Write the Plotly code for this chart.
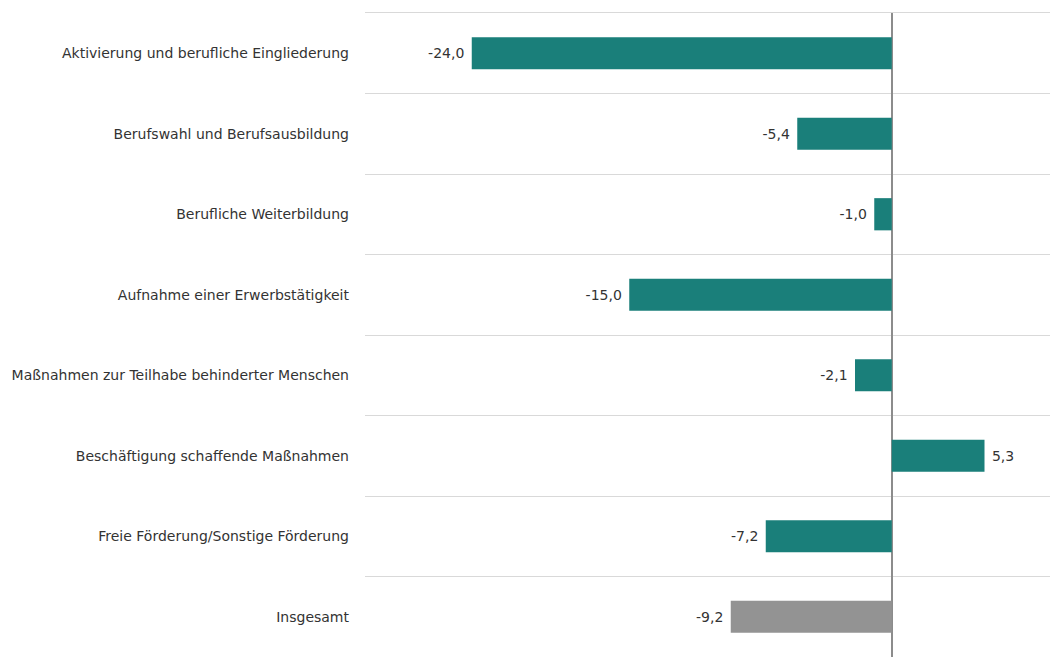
import plotly.graph_objects as go

categories = [
    "Aktivierung und berufliche Eingliederung",
    "Berufswahl und Berufsausbildung",
    "Berufliche Weiterbildung",
    "Aufnahme einer Erwerbstätigkeit",
    "Maßnahmen zur Teilhabe behinderter Menschen",
    "Beschäftigung schaffende Maßnahmen",
    "Freie Förderung/Sonstige Förderung",
    "Insgesamt",
]
values = [-24.0, -5.4, -1.0, -15.0, -2.1, 5.3, -7.2, -9.2]
colors = ["#1a7f7a"] * 7 + ["#939393"]

fig = go.Figure(go.Bar(
    x=values, y=categories, orientation="h",
    marker=dict(color=colors, line=dict(width=0)),
    width=0.4,
    text=values, texttemplate="\u00a0%{x:.1f}\u00a0", textposition="outside",
    textfont=dict(size=14, color="#333333"),
    cliponaxis=False,
))

fig.update_layout(
    width=1050, height=649,
    margin=dict(l=357, r=0, t=5, b=0, autoexpand=False),
    paper_bgcolor="white", plot_bgcolor="white",
    separators=",.",
    font=dict(family="DejaVu Sans", size=14, color="#333333"),
    showlegend=False,
    xaxis=dict(range=[-30.1, 9.5], showgrid=False, showticklabels=False,
               side="top", showline=True, linecolor="#d9d9d9", linewidth=1,
               zeroline=True, zerolinecolor="#8c8c8c", zerolinewidth=2,
               fixedrange=True, automargin=False),
    yaxis=dict(autorange=False, range=[7.5, -0.5], tickson="boundaries",
               showgrid=True, gridcolor="#d9d9d9", gridwidth=1, automargin=False,
               ticks="", ticklabelstandoff=15, tickfont=dict(size=14, color="#333333")),
)

fig.write_html("out.html")
